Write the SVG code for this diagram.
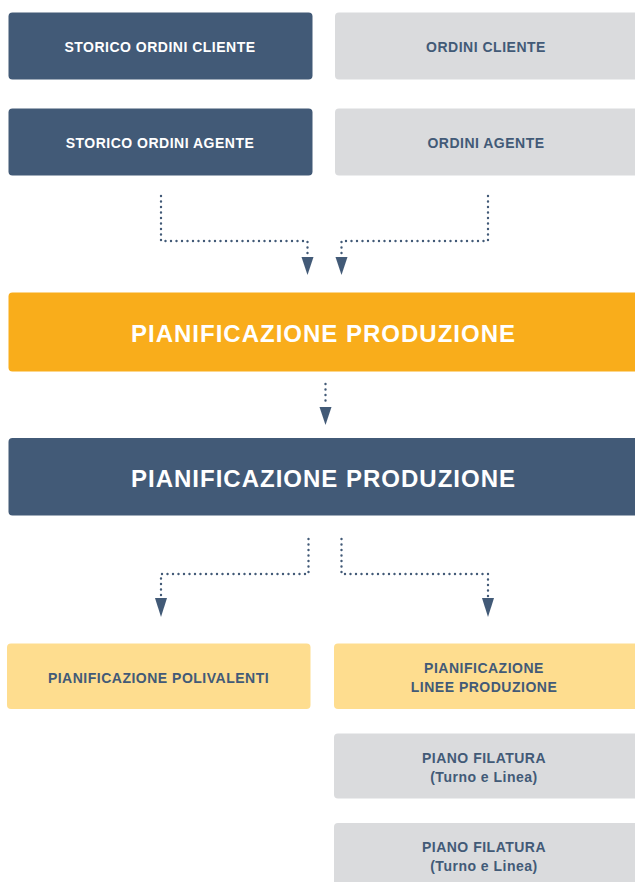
<svg xmlns="http://www.w3.org/2000/svg" width="635" height="882" viewBox="0 0 635 882">
<defs>
<style>
.dark{fill:#425a77}
.gray{fill:#dadbdd}
.orange{fill:#f9ad1b}
.lorange{fill:#fedd8f}
text{font-family:"Liberation Sans",Arial,sans-serif;font-weight:bold;text-anchor:middle}
.s{font-size:14px;letter-spacing:0.5px}
.w{fill:#ffffff}
.b{fill:#425a77}
.big{font-size:24px;letter-spacing:1px;fill:#ffffff}
.dot{fill:none;stroke:#425a77;stroke-width:2.4;stroke-linecap:round;stroke-dasharray:0 5.5}
.head{fill:#425a77}
</style>
</defs>
<rect width="635" height="882" fill="#ffffff"/>
<g id="storico-cliente"><rect class="dark" x="8.5" y="12.5" width="304" height="67" rx="4"/><text class="s w" x="160" y="52">STORICO ORDINI CLIENTE</text></g>
<g id="ordini-cliente"><rect class="gray" x="335" y="12.5" width="310" height="67" rx="4"/><text class="s b" x="486" y="52">ORDINI CLIENTE</text></g>
<g id="storico-agente"><rect class="dark" x="8.5" y="108.5" width="304" height="67" rx="4"/><text class="s w" x="160" y="148">STORICO ORDINI AGENTE</text></g>
<g id="ordini-agente"><rect class="gray" x="335" y="108.5" width="310" height="67" rx="4"/><text class="s b" x="486" y="148">ORDINI AGENTE</text></g>
<g id="pianificazione-1"><rect class="orange" x="8.5" y="292.5" width="640" height="79" rx="4"/><text class="big" x="323.5" y="342">PIANIFICAZIONE PRODUZIONE</text></g>
<g id="pianificazione-2"><rect class="dark" x="8.5" y="438" width="640" height="77.5" rx="4"/><text class="big" x="323.5" y="487">PIANIFICAZIONE PRODUZIONE</text></g>
<g id="polivalenti"><rect class="lorange" x="7" y="643.5" width="303.5" height="65.5" rx="4"/><text class="s b" x="158.5" y="683">PIANIFICAZIONE POLIVALENTI</text></g>
<g id="linee"><rect class="lorange" x="334" y="643.5" width="310" height="65.5" rx="4"/><text class="s b" x="484" y="673">PIANIFICAZIONE</text><text class="s b" x="484" y="692">LINEE PRODUZIONE</text></g>
<g id="filatura-1"><rect class="gray" x="334" y="733.5" width="310" height="65" rx="4"/><text class="s b" x="484" y="763">PIANO FILATURA</text><text class="s b" x="484" y="782">(Turno e Linea)</text></g>
<g id="filatura-2"><rect class="gray" x="334" y="823" width="310" height="80" rx="4"/><text class="s b" x="484" y="852">PIANO FILATURA</text><text class="s b" x="484" y="871">(Turno e Linea)</text></g>
<g id="connectors">
<path class="dot" d="M161 196 V241 H307.5 V256"/>
<path class="dot" d="M488 196 V241 H341.5 V256"/>
<polygon class="head" points="301.5,257 313.5,257 307.5,275"/>
<polygon class="head" points="335.5,257 347.5,257 341.5,275"/>
<path class="dot" d="M325.5 384 V406"/>
<polygon class="head" points="319.5,407 331.5,407 325.5,425"/>
<path class="dot" d="M308.5 539 V574 H161 V597"/>
<path class="dot" d="M341.5 539 V574 H488 V597"/>
<polygon class="head" points="155,598 167,598 161,617"/>
<polygon class="head" points="482,598 494,598 488,617"/>
</g>
</svg>
